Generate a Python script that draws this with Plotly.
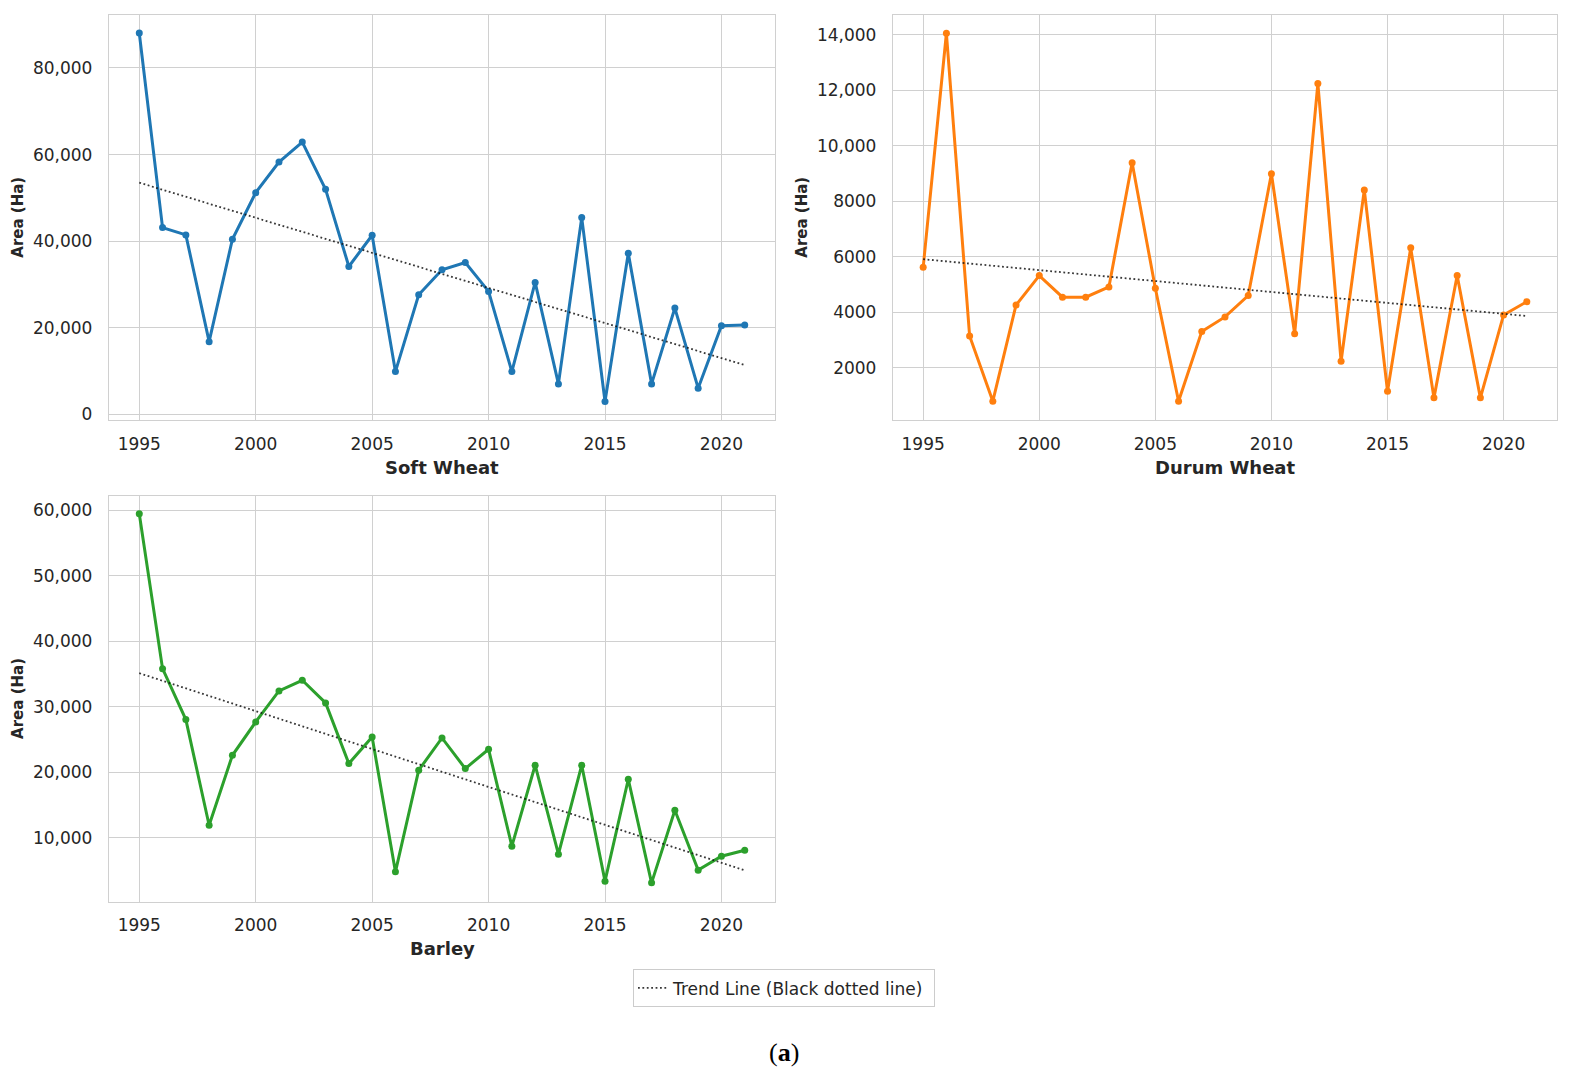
import numpy as np
import plotly.graph_objects as go

YEARS = list(range(1995, 2022))

SOFT_WHEAT = [88060, 43150, 41460, 16810, 40460, 51210, 58270, 62880, 51980, 34160,
              41380, 9900, 27640, 33400, 35090, 28410, 9900, 30480, 7060, 45450,
              2990, 37240, 7060, 24570, 6070, 20500, 20650]
DURUM_WHEAT = [5620, 14060, 3140, 790, 4260, 5320, 4540, 4540, 4910, 9390,
               4860, 790, 3300, 3830, 4600, 8990, 3220, 12250, 2230, 8410,
               1150, 6320, 910, 5320, 910, 3900, 4380]
BARLEY = [59490, 35840, 28060, 11930, 22610, 27700, 32430, 34060, 30600, 21340,
          25410, 4810, 20330, 25260, 20580, 23530, 8730, 21090, 7510, 21090,
          3390, 18950, 3130, 14220, 5070, 7200, 8120]

CROPS = ["Soft Wheat", "Durum Wheat", "Barley"]
COLORS = ["#1f77b4", "#ff7f0e", "#2ca02c"]

SOFT_TICKS = [0, 20000, 40000, 60000, 80000]
SOFT_LABELS = ["0", "20,000", "40,000", "60,000", "80,000"]
DURUM_TICKS = [2000, 4000, 6000, 8000, 10000, 12000, 14000]
DURUM_LABELS = ["2000", "4000", "6000", "8000", "10,000", "12,000", "14,000"]
BARLEY_TICKS = [10000, 20000, 30000, 40000, 50000, 60000]
BARLEY_LABELS = ["10,000", "20,000", "30,000", "40,000", "50,000", "60,000"]

# the page body has an 8px margin, so the figure starts at (8, 8)
OFF = 8
W, H = 1569 - 2 * OFF, 1079 - 2 * OFF
TXT = "#262626"
GRID = "#d0d0d0"
FONT = "DejaVu Sans"


def px_x(p):
    return (p - OFF) / W


def px_y(p):
    return 1 - (p - OFF) / H


# panel boxes in page pixels: (left, right, top, bottom)
panels = [
    dict(y=SOFT_WHEAT, box=(109, 775, 15, 422), yr=[-1380, 92230],
         ticks=SOFT_TICKS, labels=SOFT_LABELS),
    dict(y=DURUM_WHEAT, box=(893, 1557, 15, 422), yr=[96, 14719],
         ticks=DURUM_TICKS, labels=DURUM_LABELS),
    dict(y=BARLEY, box=(109, 775, 498, 905), yr=[265, 62175],
         ticks=BARLEY_TICKS, labels=BARLEY_LABELS),
]

fig = go.Figure()
layout = {}
annotations = []

for i, (p, name, color) in enumerate(zip(panels, CROPS, COLORS)):
    n = "" if i == 0 else str(i + 1)
    xa, ya = "x" + n, "y" + n
    left, right, top, bottom = p["box"]

    fig.add_trace(go.Scatter(
        x=YEARS, y=p["y"], mode="lines+markers", xaxis=xa, yaxis=ya,
        line=dict(color=color, width=3), marker=dict(color=color, size=7),
        showlegend=False, name=name,
    ))

    # least-squares trend, like the original figure
    slope, icpt = np.polyfit(YEARS, p["y"], 1)
    trend = [slope * yr + icpt for yr in YEARS]
    fig.add_trace(go.Scatter(
        x=YEARS, y=trend, mode="lines", xaxis=xa, yaxis=ya,
        line=dict(color="rgba(20,20,20,0.85)", width=1.8, dash="1.8px,2.6px"),
        name="Trend Line (Black dotted line) ", legendgroup="trend",
        showlegend=(i == 0),
    ))

    axis_common = dict(
        showgrid=True, gridcolor=GRID, gridwidth=1.3,
        showline=True, mirror=True, linecolor=GRID, linewidth=1.3,
        zeroline=False, ticks="outside",
        tickcolor="rgba(0,0,0,0)",
        tickfont=dict(family=FONT, size=17, color=TXT),
    )
    layout["xaxis" + n] = dict(
        axis_common, domain=[px_x(left), px_x(right)], anchor=ya, ticklen=8,
        range=[1993.7, 2022.3], tickvals=[1995, 2000, 2005, 2010, 2015, 2020],
    )
    layout["yaxis" + n] = dict(
        axis_common, domain=[px_y(bottom), px_y(top)], anchor=xa, ticklen=12,
        range=p["yr"], tickvals=p["ticks"], ticktext=p["labels"],
    )

    # x title under each panel
    annotations.append(dict(
        text="<b>" + name + "</b>", x=px_x((left + right) / 2), y=px_y(bottom + 47),
        xref="paper", yref="paper", showarrow=False, xanchor="center", yanchor="middle",
        font=dict(family=FONT, size=18, color=TXT),
    ))
    # y title left of each panel
    annotations.append(dict(
        text="<b>Area (Ha)</b>", x=px_x(left - 91), y=px_y((top + bottom) / 2),
        xref="paper", yref="paper", showarrow=False, textangle=-90,
        xanchor="center", yanchor="middle",
        font=dict(family=FONT, size=15, color=TXT),
    ))

annotations.append(dict(
    text="(<b>a</b>)", x=px_x(784), y=px_y(1056), xref="paper", yref="paper",
    showarrow=False, xanchor="center", yanchor="middle",
    font=dict(family="Liberation Serif", size=26, color="black"),
))

fig.update_layout(
    **layout,
    width=W, height=H,
    margin=dict(l=0, r=0, t=0, b=0),
    plot_bgcolor="white", paper_bgcolor="white",
    font=dict(family=FONT, color=TXT),
    annotations=annotations,
    legend=dict(
        orientation="h", x=px_x(784), xanchor="center", y=px_y(973), yanchor="top",
        bordercolor="#cccccc", borderwidth=1, bgcolor="white",
        font=dict(family=FONT, size=17, color=TXT),
    ),
)

fig.write_html("out.html")
